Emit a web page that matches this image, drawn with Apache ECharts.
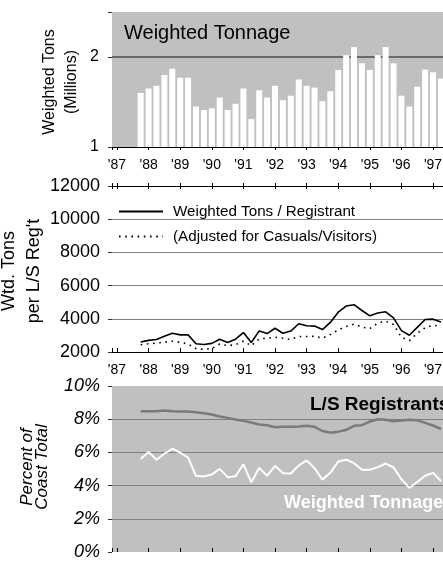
<!DOCTYPE html>
<html><head><meta charset="utf-8">
<script src="https://cdn.jsdelivr.net/npm/echarts@6/dist/echarts.min.js"></script>
<style>html,body{margin:0;padding:0;background:#fff;overflow:hidden}#c{width:443px;height:562px}</style>
</head><body><div id="c"></div>
<script>
// ---- data ----
const quarters = ['87Q4',
  '88Q1','88Q2','88Q3','88Q4','89Q1','89Q2','89Q3','89Q4','90Q1','90Q2','90Q3','90Q4',
  '91Q1','91Q2','91Q3','91Q4','92Q1','92Q2','92Q3','92Q4','93Q1','93Q2','93Q3','93Q4',
  '94Q1','94Q2','94Q3','94Q4','95Q1','95Q2','95Q3','95Q4','96Q1','96Q2','96Q3','96Q4',
  '97Q1','97Q2'];
const yearTicks = [1987,1988,1989,1990,1991,1992,1993,1994,1995,1996,1997];
const yearLabels = ["'87","'88","'89","'90","'91","'92","'93","'94","'95","'96","'97"];
// Weighted tonnage (millions)
const weightedTonnage = [1.60,1.65,1.68,1.80,1.87,1.77,1.77,1.45,1.41,1.43,1.55,1.41,1.48,1.65,1.31,1.63,
  1.55,1.68,1.52,1.57,1.75,1.68,1.66,1.51,1.62,1.855,2.02,2.11,1.93,1.855,2.02,2.11,1.93,1.57,1.45,1.67,1.86,1.83,1.76];
// Weighted tons per L/S registrant
const tonsPerRegistrant = [2600,2700,2750,2950,3130,3030,3030,2500,2450,2520,2770,2570,2770,3170,2570,3270,
  3110,3430,3130,3260,3700,3580,3560,3350,3780,4400,4770,4850,4500,4180,4350,4420,4060,3290,3010,3480,3960,3980,3800];
// Adjusted for casuals/visitors
const tonsPerRegAdjusted = [2440,2500,2540,2590,2650,2590,2480,2200,2160,2200,2480,2380,2440,2650,2380,2790,
  2830,2890,2830,2760,2930,2930,2950,2830,3050,3330,3540,3680,3500,3410,3740,3860,3660,2890,2690,3130,3460,3620,3540];
// Percent of coast total
const lsRegistrantsShare = [8.48,8.48,8.48,8.53,8.48,8.46,8.46,8.42,8.36,8.28,8.16,8.08,7.98,7.90,7.80,7.68,
  7.64,7.52,7.54,7.55,7.56,7.60,7.54,7.29,7.19,7.25,7.35,7.60,7.64,7.86,8.00,7.96,7.88,7.92,7.96,7.94,7.78,7.62,7.41];
const weightedTonnageShare = [5.60,6.02,5.56,5.92,6.22,5.98,5.68,4.59,4.55,4.67,5.01,4.51,4.57,5.29,4.20,5.07,
  4.59,5.19,4.75,4.73,5.21,5.52,5.05,4.36,4.77,5.45,5.56,5.35,4.95,4.95,5.11,5.33,5.09,4.38,3.86,4.22,4.59,4.77,4.28];
const topYTicks = [1, 2];
const topYLabels = ['1', '2'];
const seriesNames = ['Weighted Tons / Registrant', '(Adjusted for Casuals/Visitors)'];

// ---- build ----
const FONT = 'Liberation Sans, Arial, Helvetica, sans-serif';
const qx = quarters.map(s => 1900 + parseInt(s.slice(0, 2), 10) + (parseInt(s.slice(3), 10) - 1) / 4);
const pair = arr => arr.map((v, i) => [qx[i], v]);
const XMIN = 1986.842, XMAX = 1997.6;

function yearFmt(v) {
  const k = yearTicks.indexOf(Math.round(v * 1000) / 1000);
  return k >= 0 ? yearLabels[k] : '';
}
function xAx(grid, position, o) {
  return Object.assign({
    type: 'value', gridIndex: grid, position: position, min: XMIN, max: XMAX,
    minInterval: 1, maxInterval: 1, splitNumber: 10,
    axisLine: { show: true, onZero: false, lineStyle: { color: '#000', width: 1 } },
    axisTick: { show: true, inside: false, length: 3, lineStyle: { color: '#000' } },
    axisLabel: { show: false },
    splitLine: { show: false }
  }, o);
}
const lbl = { show: true, formatter: yearFmt, fontFamily: FONT, fontSize: 14, color: '#000', margin: 11 };
const gridBase = { left: 112, width: 340, outerBoundsMode: 'none', containLabel: false };

const option = {
  animation: false,
  grid: [
    Object.assign({ top: 12, height: 135, show: true, backgroundColor: '#c0c0c0', borderWidth: 0 }, gridBase),
    Object.assign({ top: 186, height: 166, show: false }, gridBase),
    Object.assign({ top: 386, height: 166, show: true, backgroundColor: '#c0c0c0', borderWidth: 0 }, gridBase),
    Object.assign({ top: 186, height: 166, show: false }, gridBase)
  ],
  xAxis: [
    xAx(0, 'bottom', { axisLabel: lbl }),
    xAx(1, 'bottom', { axisLabel: lbl, axisTick: { show: true, inside: true, length: 4, lineStyle: { color: '#000' } } }),
    xAx(1, 'top', { axisTick: { show: true, inside: false, length: 3, lineStyle: { color: '#000' } } }),
    xAx(2, 'top', { axisLine: { show: false }, axisTick: { show: true, inside: false, length: 4, lineStyle: { color: '#000' } } }),
    xAx(2, 'bottom', { axisLine: { show: false }, axisTick: { show: true, inside: true, length: 3, lineStyle: { color: '#000' } } }),
    xAx(3, 'top', { axisLine: { show: false }, axisTick: { show: true, inside: true, length: 3, lineStyle: { color: '#000' } } })
  ],
  yAxis: [
    { type: 'value', gridIndex: 0, min: 1, max: 2.5, interval: 1,
      axisLine: { show: false },
      axisTick: { show: true, length: 4, lineStyle: { color: '#333' } },
      axisLabel: { fontFamily: FONT, fontSize: 16, color: '#000', margin: 13,
        formatter: v => { const k = topYTicks.indexOf(v); return k >= 0 ? topYLabels[k] : ''; } },
      splitLine: { show: true, showMinLine: false, showMaxLine: false, lineStyle: { color: '#4d4d4d', width: 1.5 } } },
    { type: 'value', gridIndex: 1, min: 2000, max: 12000, interval: 2000,
      axisLine: { show: false },
      axisTick: { show: true, length: 4, lineStyle: { color: '#333' } },
      axisLabel: { fontFamily: FONT, fontSize: 18, color: '#000', margin: 12, formatter: v => String(v) },
      splitLine: { show: true, showMinLine: false, showMaxLine: false, lineStyle: { color: '#808080', width: 1 } } },
    { type: 'value', gridIndex: 2, min: 0, max: 10, interval: 2,
      axisLine: { show: false },
      axisTick: { show: true, length: 4, lineStyle: { color: '#333' } },
      axisLabel: { fontFamily: FONT, fontSize: 18, fontStyle: 'italic', color: '#000', margin: 12, formatter: v => v + '%' },
      splitLine: { show: true, showMinLine: false, showMaxLine: false, lineStyle: { color: '#808080', width: 1 } } },
    { type: 'value', gridIndex: 3, min: 2000, max: 12000, show: false }
  ],
  legend: {
    data: seriesNames, orient: 'vertical', left: 113, top: 199,
    itemWidth: 44, itemHeight: 16, itemGap: 10, selectedMode: false,
    itemStyle: { opacity: 0 },
    textStyle: { fontFamily: FONT, fontSize: 15.2, color: '#000', padding: [0, 0, 0, 5] }
  },
  series: [
    { type: 'bar', xAxisIndex: 0, yAxisIndex: 0, data: pair(weightedTonnage), barWidth: 6,
      itemStyle: { color: '#ffffff' }, silent: true },
    { name: seriesNames[0], type: 'line', xAxisIndex: 1, yAxisIndex: 1, data: pair(tonsPerRegistrant),
      symbol: 'none', lineStyle: { color: '#000', width: 1.6 }, itemStyle: { color: '#000' } },
    { name: seriesNames[1], type: 'line', xAxisIndex: 1, yAxisIndex: 1, data: pair(tonsPerRegAdjusted),
      symbol: 'none', lineStyle: { color: '#000', width: 1.6, type: [1.6, 4.6] }, itemStyle: { color: '#000' } },
    { type: 'line', xAxisIndex: 3, yAxisIndex: 2, data: pair(lsRegistrantsShare),
      symbol: 'none', lineStyle: { color: '#7a7a7a', width: 2.5 } },
    { type: 'line', xAxisIndex: 3, yAxisIndex: 2, data: pair(weightedTonnageShare),
      symbol: 'none', lineStyle: { color: '#ffffff', width: 2 } }
  ],
  graphic: [
    { type: 'text', x: 124, y: 33, style: { text: 'Weighted Tonnage', font: '20px ' + FONT, fill: '#000',
      align: 'left', verticalAlign: 'middle', textAlign: 'left', textVerticalAlign: 'middle' } },
    { type: 'text', x: 310, y: 405, style: { text: 'L/S Registrants', font: 'bold 19px ' + FONT, fill: '#000',
      align: 'left', verticalAlign: 'middle', textAlign: 'left', textVerticalAlign: 'middle' } },
    { type: 'text', x: 284, y: 503, style: { text: 'Weighted Tonnage', font: 'bold 18px ' + FONT, fill: '#fff',
      align: 'left', verticalAlign: 'middle', textAlign: 'left', textVerticalAlign: 'middle' } },
    { type: 'text', x: 61, y: 82, rotation: Math.PI / 2, style: { text: 'Weighted Tons\n(Millions)', font: '16px ' + FONT,
      lineHeight: 22, fill: '#000', align: 'center', verticalAlign: 'middle', textAlign: 'center', textVerticalAlign: 'middle' } },
    { type: 'text', x: 22, y: 271, rotation: Math.PI / 2, style: { text: 'Wtd. Tons\nper L/S Reg\'t', font: '18px ' + FONT,
      lineHeight: 25, fill: '#000', align: 'center', verticalAlign: 'middle', textAlign: 'center', textVerticalAlign: 'middle' } },
    { type: 'text', x: 35, y: 467, rotation: Math.PI / 2, style: { text: 'Percent of\nCoast Total', font: 'italic 17px ' + FONT,
      lineHeight: 15, fill: '#000', align: 'center', verticalAlign: 'middle', textAlign: 'center', textVerticalAlign: 'middle' } }
  ]
};
const chart = echarts.init(document.getElementById('c'), null, { renderer: 'canvas' });
chart.setOption(option);
</script>
</body></html>
